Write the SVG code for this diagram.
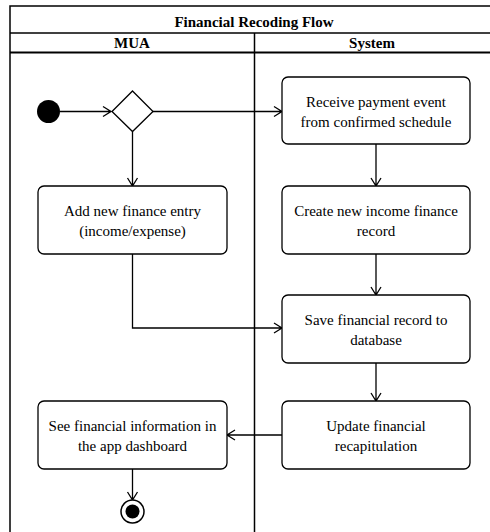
<svg xmlns="http://www.w3.org/2000/svg" width="490" height="532" viewBox="0 0 490 532">
<style>
.frame{fill:none;stroke:#000;stroke-width:1.5}
.box{fill:#fff;stroke:#000;stroke-width:1.3}
.ln{fill:none;stroke:#000;stroke-width:1.3}
</style>
<rect x="0" y="0" width="490" height="532" fill="#fff"/>
<g id="frame">
<rect class="frame" x="10" y="6" width="490" height="540"/>
<line class="frame" x1="10" y1="33" x2="490" y2="33"/>
<line class="frame" x1="10" y1="52.5" x2="490" y2="52.5" style="stroke-width:2"/>
<line class="frame" x1="254.5" y1="33" x2="254.5" y2="532"/>
<text x="254" y="27" font-family="Liberation Serif" font-size="15" font-weight="bold" text-anchor="middle">Financial Recoding Flow</text>
<text x="132" y="48" font-family="Liberation Serif" font-size="15" font-weight="bold" text-anchor="middle">MUA</text>
<text x="372" y="48" font-family="Liberation Serif" font-size="15" font-weight="bold" text-anchor="middle">System</text>
</g>
<g id="connectors">
<path class="ln" d="M60,111.5 H111 M103,106.5 L111,111.5 L103,116.5"/>
<path class="ln" d="M153,111.5 H282 M274,106.5 L282,111.5 L274,116.5"/>
<path class="ln" d="M132.5,131.5 V186 M127.5,178 L132.5,186 L137.5,178"/>
<path class="ln" d="M376,144 V186 M371,178 L376,186 L381,178"/>
<path class="ln" d="M376,254 V295 M371,287 L376,295 L381,287"/>
<path class="ln" d="M132.5,254 V328 H282 M274,323 L282,328 L274,333"/>
<path class="ln" d="M376,363 V401 M371,393 L376,401 L381,393"/>
<path class="ln" d="M282,435 H227 M235,430 L227,435 L235,440"/>
<path class="ln" d="M132.5,469 V500 M127.5,492 L132.5,500 L137.5,492"/>
</g>
<g id="start"><circle cx="48.5" cy="111.5" r="11.5" fill="#000"/></g>
<g id="decision"><polygon points="132.5,91 153,111.5 132.5,131.5 112,111.5" fill="#fff" stroke="#000" stroke-width="1.3"/></g>
<g id="receive"><rect class="box" x="282" y="77" width="188" height="67" rx="6"/>
<text x="376" y="107" font-family="Liberation Serif" font-size="15" text-anchor="middle">Receive payment event</text>
<text x="376" y="127" font-family="Liberation Serif" font-size="15" text-anchor="middle">from confirmed schedule</text></g>
<g id="addentry"><rect class="box" x="38" y="186" width="189" height="68" rx="6"/>
<text x="132.5" y="216" font-family="Liberation Serif" font-size="15" text-anchor="middle">Add new finance entry</text>
<text x="132.5" y="236" font-family="Liberation Serif" font-size="15" text-anchor="middle">(income/expense)</text></g>
<g id="create"><rect class="box" x="282" y="186" width="188" height="68" rx="6"/>
<text x="376" y="216" font-family="Liberation Serif" font-size="15" text-anchor="middle">Create new income finance</text>
<text x="376" y="236" font-family="Liberation Serif" font-size="15" text-anchor="middle">record</text></g>
<g id="save"><rect class="box" x="282" y="295" width="188" height="68" rx="6"/>
<text x="376" y="325" font-family="Liberation Serif" font-size="15" text-anchor="middle">Save financial record to</text>
<text x="376" y="345" font-family="Liberation Serif" font-size="15" text-anchor="middle">database</text></g>
<g id="update"><rect class="box" x="282" y="401" width="188" height="68" rx="6"/>
<text x="376" y="431" font-family="Liberation Serif" font-size="15" text-anchor="middle">Update financial</text>
<text x="376" y="451" font-family="Liberation Serif" font-size="15" text-anchor="middle">recapitulation</text></g>
<g id="see"><rect class="box" x="38" y="401" width="189" height="68" rx="6"/>
<text x="132.5" y="431" font-family="Liberation Serif" font-size="15" text-anchor="middle">See financial information in</text>
<text x="132.5" y="451" font-family="Liberation Serif" font-size="15" text-anchor="middle">the app dashboard</text></g>
<g id="end"><circle cx="132.5" cy="511.5" r="11.5" fill="#fff" stroke="#000" stroke-width="1.5"/><circle cx="132.5" cy="511.5" r="7" fill="#000"/></g>
</svg>
